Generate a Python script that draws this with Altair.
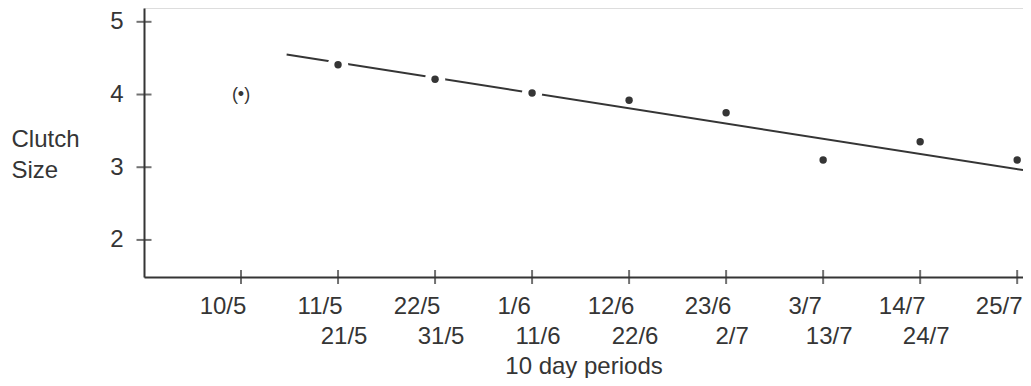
import altair as alt
import pandas as pd

# ---- data ----
period_index = [0, 1, 2, 3, 4, 5, 6, 7, 8]
label_top = ["10/5", "11/5", "22/5", "1/6", "12/6", "23/6", "3/7", "14/7", "25/7"]
label_bottom = ["", "21/5", "31/5", "11/6", "22/6", "2/7", "13/7", "24/7", ""]
clutch_size = [4.00, 4.41, 4.21, 4.02, 3.92, 3.75, 3.10, 3.35, 3.10]
bracketed = [True, False, False, False, False, False, False, False, False]
line_gap = [False, True, True, True, False, False, False, False, False]

fit_x = [0.47, 8.06]
fit_y = [4.55, 2.96]

y_ticks = [2, 3, 4, 5]

X_DOMAIN = [-1, 8.06]
Y_DOMAIN = [1.49, 5.19]
INK = "#353535"
FONT = "Liberation Sans"
FS = 24
W, H = 879, 269

df = pd.DataFrame({
    "i": period_index, "top": label_top, "bottom": label_bottom,
    "size": clutch_size, "br": bracketed, "gap": line_gap,
})
fit = pd.DataFrame({"i": fit_x, "size": fit_y})
yt = pd.DataFrame({"v": y_ticks})

xs = alt.Scale(domain=X_DOMAIN, nice=False, zero=False)
ys = alt.Scale(domain=Y_DOMAIN, nice=False, zero=False)

base = alt.Chart(df)

axes = base.mark_point(opacity=0).encode(
    x=alt.X("i:Q", scale=xs, axis=alt.Axis(
        domain=True, domainColor=INK, domainWidth=2, ticks=False, labels=False,
        grid=False, title="10 day periods", titleFont=FONT, titleFontSize=FS,
        titleFontWeight="normal", titleColor=INK, titleBaseline="middle",
        titleY=89)),
    y=alt.Y("size:Q", scale=ys, axis=alt.Axis(
        values=y_ticks, format="d", domain=True, domainColor=INK, domainWidth=2,
        ticks=False, labelPadding=21, labelFont=FONT, labelFontSize=FS,
        labelColor=INK, grid=False, title=["Clutch", "Size"], titleAngle=0,
        titleAlign="left", titleBaseline="middle", titleX=-133, titleY=131,
        titleFont=FONT, titleFontSize=FS, titleFontWeight="normal",
        titleColor=INK, titleLineHeight=31)),
)

xticks = base.mark_tick(orient="vertical", color=INK, thickness=2, size=14).encode(
    x=alt.X("i:Q", scale=xs), y=alt.value(H))
yticks = alt.Chart(yt).mark_tick(orient="horizontal", color=INK, thickness=2, size=15).encode(
    y=alt.Y("v:Q", scale=ys), x=alt.value(0))

line = alt.Chart(fit).mark_line(color=INK, strokeWidth=2).encode(
    x=alt.X("i:Q", scale=xs), y=alt.Y("size:Q", scale=ys))

halo = base.transform_filter("datum.gap").mark_point(
    shape="circle", filled=True, color="white", opacity=1, size=420).encode(
    x=alt.X("i:Q", scale=xs), y=alt.Y("size:Q", scale=ys))

dots = base.transform_filter("!datum.br").mark_point(
    shape="circle", filled=True, color=INK, opacity=1, size=55).encode(
    x=alt.X("i:Q", scale=xs), y=alt.Y("size:Q", scale=ys))

bdot = base.transform_filter("datum.br").mark_text(
    text="(•)", font=FONT, fontSize=18, color=INK, baseline="middle").encode(
    x=alt.X("i:Q", scale=xs), y=alt.Y("size:Q", scale=ys))

top_lab = base.mark_text(font=FONT, fontSize=FS, color=INK, baseline="middle",
                         dx=-18).encode(
    x=alt.X("i:Q", scale=xs), y=alt.value(299), text="top:N")
bot_lab = base.mark_text(font=FONT, fontSize=FS, color=INK, baseline="middle",
                         dx=6).encode(
    x=alt.X("i:Q", scale=xs), y=alt.value(329), text="bottom:N")

chart = alt.layer(axes, line, halo, dots, bdot, xticks, yticks, top_lab, bot_lab).properties(
    width=W, height=H,
    autosize=alt.AutoSizeParams(type="none"),
    padding={"left": 136, "top": 0, "right": 0, "bottom": 101},
).configure_view(stroke=None).configure(background="white")

chart.save("out.html", embed_options={"renderer": "svg", "actions": False})
